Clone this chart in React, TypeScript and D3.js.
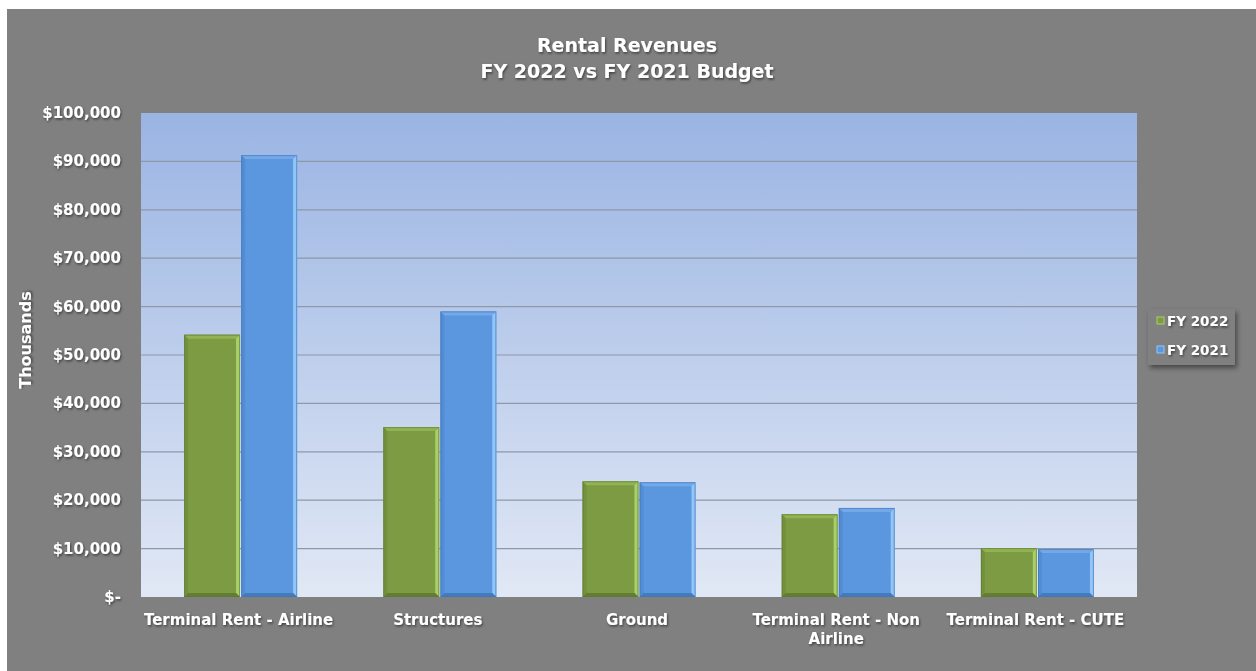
import React from "react";
import * as d3 from "d3";

const categories = [
  ["Terminal Rent - Airline"],
  ["Structures"],
  ["Ground"],
  ["Terminal Rent - Non", "Airline"],
  ["Terminal Rent - CUTE"],
];
const seriesNames = ["FY 2022", "FY 2021"];
const fy2022 = [54200, 35100, 23900, 17100, 10100];
const fy2021 = [91300, 59000, 23700, 18400, 9900];
const yTicks = [0, 10000, 20000, 30000, 40000, 50000, 60000, 70000, 80000, 90000, 100000];

const W = 1256;
const H = 671;
const plot = { left: 141, right: 1137, top: 113, bottom: 597 };
const FONT = "'DejaVu Sans', Verdana, sans-serif";

const palette = [
  { base: "#7d9b43", light: "#a9cf68", dark: "#5d7630", top: "#91b353" },
  { base: "#5b97df", light: "#92c6f8", dark: "#3f73b5", top: "#74a8e9" },
];

const fmt = (v: number) => (v === 0 ? "$-" : "$" + d3.format(",")(v));

function Bar({ x, y, w, h, c }: { x: number; y: number; w: number; h: number; c: typeof palette[0] }) {
  const b = Math.min(4, h / 2);
  return (
    <g>
      <rect x={x} y={y} width={w} height={h} fill={c.base} />
      {/* top bevel */}
      <polygon points={`${x},${y} ${x + w},${y} ${x + w - b},${y + b} ${x + b},${y + b}`} fill={c.top} />
      {/* right bevel */}
      <polygon points={`${x + w},${y} ${x + w},${y + h} ${x + w - b},${y + h - b} ${x + w - b},${y + b}`} fill={c.light} />
      {/* bottom bevel */}
      <polygon points={`${x},${y + h} ${x + w},${y + h} ${x + w - b},${y + h - b} ${x + b},${y + h - b}`} fill={c.dark} opacity={0.8} />
      {/* left bevel */}
      <polygon points={`${x},${y} ${x + b},${y + b} ${x + b},${y + h - b} ${x},${y + h}`} fill={c.dark} opacity={0.3} />
      <rect x={x + 0.5} y={y + 0.5} width={w - 1} height={h - 1} fill="none" stroke={c.dark} strokeWidth={1} opacity={0.6} />
    </g>
  );
}

export default function App() {
  const x0 = d3
    .scaleBand<number>()
    .domain(d3.range(categories.length))
    .range([plot.left, plot.right]);
  const groupW = 113;
  const x1 = d3.scaleBand<number>().domain([0, 1]).range([0, groupW]).paddingInner(0.02);
  const y = d3.scaleLinear().domain([0, 100000]).range([plot.bottom, plot.top]);
  const series = [fy2022, fy2021];

  return (
    <svg
      width={W}
      height={H}
      style={{ position: "absolute", left: 0, top: 0, fontFamily: FONT }}
    >
      <defs>
        <linearGradient id="plotBg" x1="0" y1="0" x2="0" y2="1">
          <stop offset="0" stopColor="#9ab4e3" />
          <stop offset="1" stopColor="#e1e8f5" />
        </linearGradient>
        <filter id="txtShadow" x="-10%" y="-30%" width="130%" height="180%">
          <feDropShadow dx="1" dy="1.5" stdDeviation="1.2" floodColor="#000" floodOpacity="0.5" />
        </filter>
        <filter id="boxShadow" x="-20%" y="-20%" width="150%" height="160%">
          <feDropShadow dx="2" dy="3" stdDeviation="2.5" floodColor="#000" floodOpacity="0.45" />
        </filter>
      </defs>
      <rect x={0} y={0} width={W} height={H} fill="#ffffff" />
      <rect x={7} y={9} width={W - 7} height={H - 9} fill="#808080" />

      {/* plot area */}
      <rect
        x={plot.left}
        y={plot.top}
        width={plot.right - plot.left}
        height={plot.bottom - plot.top}
        fill="url(#plotBg)"
      />
      {yTicks.map((t) =>
        t > 0 && t < 100000 ? (
          <line
            key={"g" + t}
            x1={plot.left}
            x2={plot.right}
            y1={y(t)}
            y2={y(t)}
            stroke="#8d98a8"
            strokeWidth={1.2}
          />
        ) : null
      )}

      {/* bars */}
      {categories.map((_, i) => {
        const gx = (x0(i) as number) + (x0.bandwidth() - groupW) / 2;
        return series.map((s, si) => {
          const bx = gx + (x1(si) as number);
          const by = y(s[i]);
          return (
            <Bar
              key={`b${i}-${si}`}
              x={bx}
              y={by}
              w={x1.bandwidth()}
              h={plot.bottom - by}
              c={palette[si]}
            />
          );
        });
      })}

      {/* y tick labels */}
      <g filter="url(#txtShadow)" fill="#ffffff" fontWeight="bold" fontSize={15}>
        {yTicks.map((t) => (
          <text key={"t" + t} x={121} y={y(t) + 5} textAnchor="end">
            {fmt(t)}
          </text>
        ))}
      </g>

      {/* x category labels */}
      <g filter="url(#txtShadow)" fill="#ffffff" fontWeight="bold" fontSize={15}>
        {categories.map((lines, i) => (
          <text
            key={"c" + i}
            x={(x0(i) as number) + x0.bandwidth() / 2 - 2}
            y={625}
            textAnchor="middle"
          >
            {lines.map((ln, li) => (
              <tspan key={li} x={(x0(i) as number) + x0.bandwidth() / 2 - 2} dy={li === 0 ? 0 : 19}>
                {ln}
              </tspan>
            ))}
          </text>
        ))}
      </g>

      {/* axis title */}
      <text
        transform={`translate(31,340) rotate(-90)`}
        textAnchor="middle"
        fill="#ffffff"
        fontWeight="bold"
        fontSize={16}
        filter="url(#txtShadow)"
      >
        Thousands
      </text>

      {/* chart title */}
      <g filter="url(#txtShadow)" fill="#ffffff" fontWeight="bold" fontSize={19} textAnchor="middle">
        <text x={627} y={52}>Rental Revenues</text>
        <text x={627} y={78}>FY 2022 vs FY 2021 Budget</text>
      </g>

      {/* legend */}
      <rect x={1148} y={309} width={87} height={56} fill="#808080" filter="url(#boxShadow)" />
      {seriesNames.map((name, i) => (
        <g key={"l" + i}>
          <rect x={1157} y={317 + i * 29} width={7} height={7} fill={palette[i].base} stroke={palette[i].light} strokeWidth={1} />
          <text
            x={1167}
            y={326 + i * 29}
            fill="#ffffff"
            fontWeight="bold"
            fontSize={13.5}
            filter="url(#txtShadow)"
          >
            {name}
          </text>
        </g>
      ))}
    </svg>
  );
}
